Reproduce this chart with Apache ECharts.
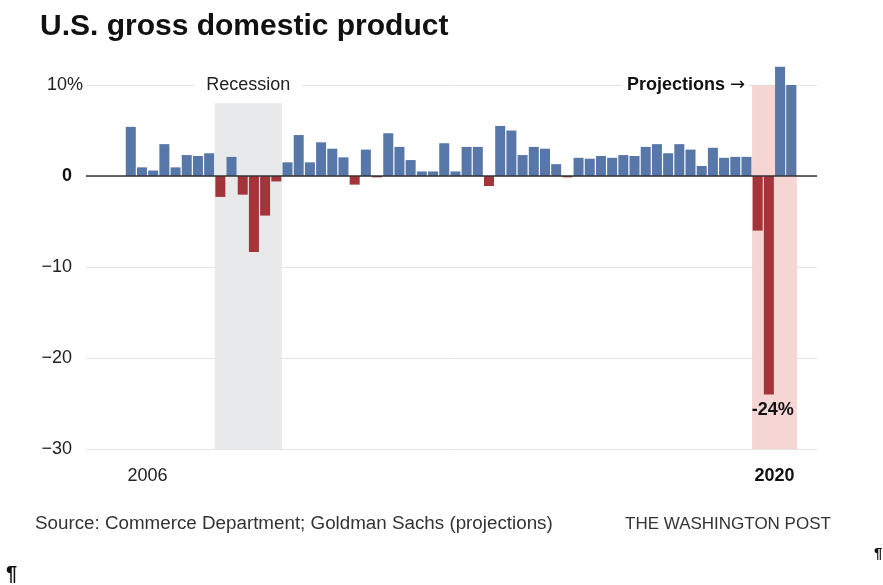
<!DOCTYPE html>
<html><head><meta charset="utf-8">
<script src="https://cdn.jsdelivr.net/npm/echarts@6/dist/echarts.min.js"></script>
<style>html,body{margin:0;padding:0;background:#fff}#c{width:883px;height:585px}</style>
</head><body><div id="c"></div>
<script>
// ---- data ----
const years = [2006, 2007, 2008, 2009, 2010, 2011, 2012, 2013, 2014, 2015, 2016, 2017, 2018, 2019, 2020];
const quarterNames = ['Q1', 'Q2', 'Q3', 'Q4'];
// annualized quarterly GDP growth (%), 2006 Q1 .. 2020 Q4 (2020 Q1-Q4 projections)
const gdpGrowth = [
  5.4, 0.95, 0.6, 3.5,      // 2006
  0.95, 2.3, 2.2, 2.5,      // 2007
  -2.3, 2.1, -2.05, -8.35,  // 2008
  -4.35, -0.6, 1.5, 4.5,    // 2009
  1.5, 3.7, 3.0, 2.05,      // 2010
  -0.95, 2.9, -0.15, 4.7,   // 2011
  3.2, 1.75, 0.5, 0.5,      // 2012
  3.6, 0.5, 3.2, 3.2,       // 2013
  -1.1, 5.5, 5.0, 2.3,      // 2014
  3.2, 3.0, 1.3, -0.15,     // 2015
  2.0, 1.9, 2.2, 2.0,       // 2016
  2.3, 2.2, 3.2, 3.5,       // 2017
  2.5, 3.5, 2.9, 1.1,       // 2018
  3.1, 2.0, 2.1, 2.1,       // 2019
  -6, -24, 12, 10           // 2020
];
const xTickYears = [2006, 2020];
const yTicks = [-30, -20, -10, 0, 10];
const recessionSpan = [2008.0, 2009.5];   // 2008 Q1 .. 2009 Q2
const recessionTop = 8;
const projectionSpan = [2020.0, 2021.0];  // 2020 Q1 .. 2020 Q4
const projectionTop = 10;
const calloutIndex = 57; // 2020 Q2

// ---- build ----
const periods = [];
years.forEach(y => quarterNames.forEach((q, qi) => periods.push({ label: y + ' ' + q, x: y + qi * 0.25 + 0.125 })));
const BLUE = '#5677a7', RED = '#a3353a';
const FONT = 'Liberation Sans';

const barData = gdpGrowth.map((v, i) => {
  const item = { name: periods[i].label, value: [periods[i].x, v] };
  if (i === calloutIndex) {
    item.label = {
      show: true, position: 'bottom', distance: 7, offset: [4, 0],
      formatter: p => p.value[1] + '%',
      fontFamily: FONT, fontSize: 18, fontWeight: 'bold', color: '#111'
    };
  }
  return item;
});

const chart = echarts.init(document.getElementById('c'), null, { renderer: 'canvas' });
chart.setOption({
  animation: false,
  backgroundColor: '#fff',
  title: {
    text: 'U.S. gross domestic product', left: 35, top: 7,
    textStyle: { fontFamily: FONT, fontSize: 30, fontWeight: 'bold', color: '#111' }
  },
  grid: { left: 86, right: 66, top: 66.8, bottom: 136 },
  xAxis: {
    type: 'value', min: 2005.125, max: 2021.45,
    axisLine: { show: false }, axisTick: { show: false }, splitLine: { show: false },
    axisLabel: {
      customValues: xTickYears.map(y => y + 0.5),
      margin: 18, fontFamily: FONT, fontSize: 18, color: '#222',
      formatter: v => {
        const y = Math.round(v - 0.5);
        return y === 2020 ? '{b|' + y + '}' : String(y);
      },
      rich: { b: { fontFamily: FONT, fontSize: 18, fontWeight: 'bold', color: '#111' } }
    }
  },
  yAxis: {
    type: 'value', min: -30, max: 12, interval: 10,
    axisLine: { show: false }, axisTick: { show: false },
    splitLine: { show: true, showMaxLine: false, lineStyle: { color: '#e4e4e4', width: 1 } },
    axisLabel: {
      margin: 3,
      formatter: v => {
        if (yTicks.indexOf(v) < 0) return '';
        if (v === 10) return '{n|10%}';
        if (v === 0) return '{z|0}{s| }';
        return '{n|' + (v < 0 ? '\u2212' + (-v) : v) + '}{s| }';
      },
      rich: {
        n: { fontFamily: FONT, fontSize: 18, color: '#222' },
        z: { fontFamily: FONT, fontSize: 18, fontWeight: 'bold', color: '#111' },
        s: { fontFamily: FONT, fontSize: 18, width: 11 }
      }
    }
  },
  series: [{
    type: 'bar',
    barWidth: 10,
    data: barData,
    itemStyle: { color: p => (p.value[1] < 0 ? RED : BLUE) },
    markArea: {
      silent: true,
      data: [
        [{
          coord: [recessionSpan[0], recessionTop],
          itemStyle: { color: '#e8e9eb' },
          label: {
            show: true, position: 'top', distance: 7, formatter: 'Recession',
            fontFamily: FONT, fontSize: 18, color: '#222',
            backgroundColor: '#fff', padding: [2, 12]
          }
        }, { coord: [recessionSpan[1], -30] }],
        [{
          coord: [projectionSpan[0], projectionTop],
          itemStyle: { color: '#f6d5d5' },
          label: {
            show: true, position: [-4, 0], align: 'right', verticalAlign: 'middle',
            formatter: '{t|Projections }{a|\u2192}',
            backgroundColor: '#fff', padding: [2, 3, 2, 5],
            rich: {
              t: { fontFamily: FONT, fontSize: 18, fontWeight: 'bold', color: '#111' },
              a: { fontFamily: 'DejaVu Sans', fontSize: 18, color: '#111' }
            }
          }
        }, { coord: [projectionSpan[1], -30] }]
      ]
    },
    markLine: {
      silent: true, symbol: ['none', 'none'],
      label: { show: false },
      lineStyle: { color: '#333', width: 1.5, type: 'solid' },
      data: [{ yAxis: 0 }]
    }
  }],
  graphic: [
    { type: 'text', left: 35, top: 514, style: { text: 'Source: Commerce Department; Goldman Sachs (projections)', font: '18.8px "Liberation Sans"', fill: '#333' } },
    { type: 'text', left: 625, top: 516, style: { text: 'THE WASHINGTON POST', font: '17px "Liberation Sans"', fill: '#333' } },
    { type: 'text', left: 874, top: 546, style: { text: '\u00b6', font: 'bold 15px "Liberation Sans"', fill: '#111' } },
    { type: 'text', left: 6, top: 564, style: { text: '\u00b6', font: 'bold 20px "Liberation Sans"', fill: '#111' } }
  ]
});
</script>
</body></html>
